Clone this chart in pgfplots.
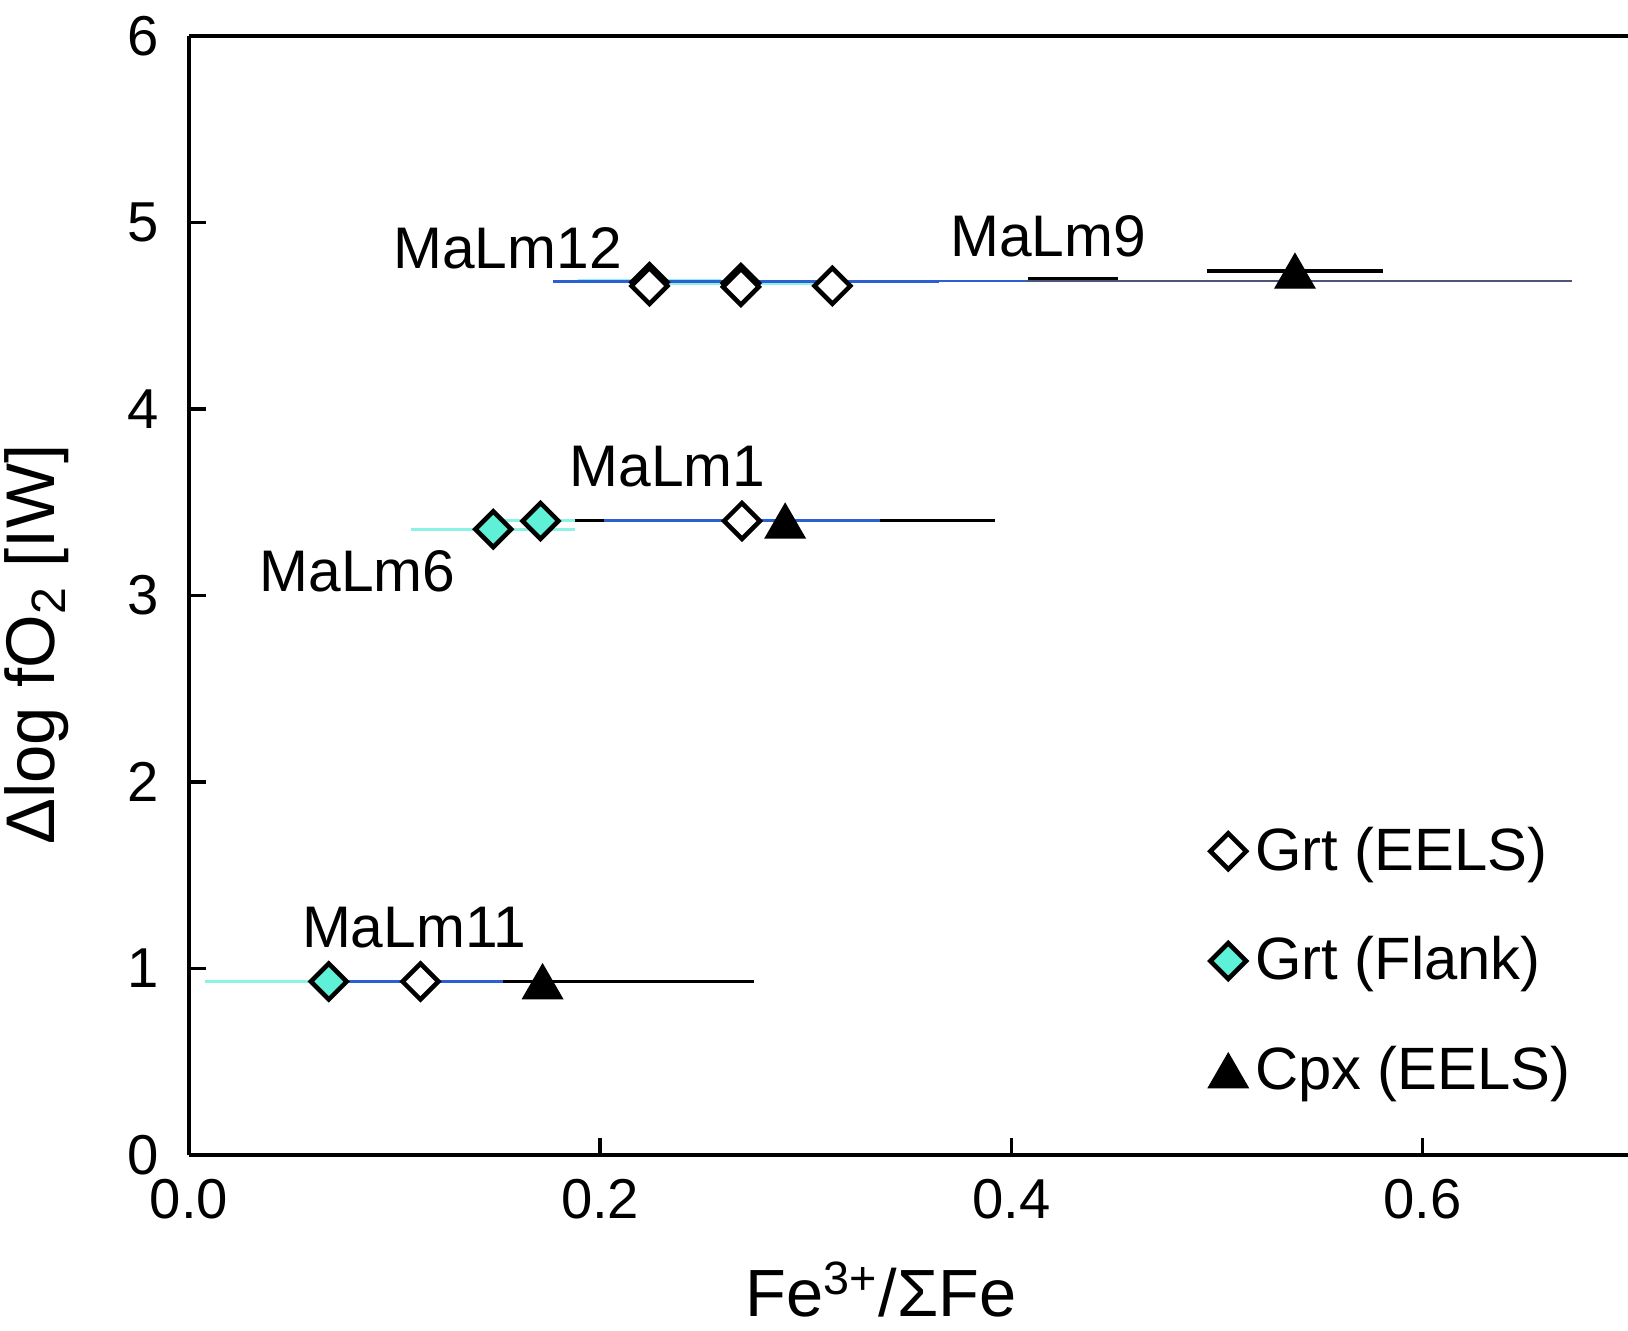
\documentclass[border=0pt]{standalone}
\usepackage{pgfplots}
\pgfplotsset{compat=1.18}
\usepackage{fontspec}
\setmainfont{Liberation Sans}

\definecolor{flankfill}{HTML}{5FF0D8}
\definecolor{flankbar}{HTML}{8CF2E4}
\definecolor{eelsbar}{HTML}{2A60D2}
\definecolor{guide}{HTML}{4A5878}

\pgfplotsset{
    eels/.style={only marks, mark=square*, mark size=3.6pt,
                 mark options={rotate=45, fill=white, draw=black, line width=1.3pt}},
    flank/.style={only marks, mark=square*, mark size=3.6pt,
                  mark options={rotate=45, fill=flankfill, draw=black, line width=1.3pt}},
    cpx/.style={only marks, mark=triangle*, mark size=6.5pt,
                mark options={fill=black, draw=black, yshift=-1.6pt}},
    xbars/.style={draw=none, mark=none, forget plot,
                  error bars/.cd, x dir=both, x explicit, error mark=none,
                  error bar style={draw=#1, line width=0.9pt, solid}},
}

\begin{document}
\begin{tikzpicture}
\begin{axis}[
    name=main,
    width=14.39cm, height=11.19cm, scale only axis,
    xmin=0, xmax=0.7, ymin=0, ymax=6,
    axis x line*=box, axis y line*=left,
    y axis line style={-}, x axis line style={-},
    axis line style={line width=1.1pt},
    xtick={0,0.2,0.4,0.6}, ytick={0,1,2,3,4,5,6},
    xtick pos=bottom, ytick pos=left,
    tick align=inside, major tick length=0.17cm,
    tick style={line width=1pt, black},
    /pgf/number format/assume math mode=true,
    xticklabel style={/pgf/number format/fixed, /pgf/number format/fixed zerofill,
                      /pgf/number format/precision=1, yshift=-0.12cm},
    yticklabel style={xshift=-0.18cm},
    ticklabel style={font=\fontsize{16}{19}\selectfont},
    xlabel={Fe\textsuperscript{3+}/ΣFe},
    ylabel={Δlog fO\textsubscript{2} [IW]},
    every axis x label/.style={at={(axis description cs:0.481,-0.12)}, anchor=center,
                               font=\fontsize{19}{22}\selectfont},
    every axis y label/.style={at={(axis description cs:-0.106,0.456)}, rotate=90, anchor=center,
                               font=\fontsize{19.6}{22}\selectfont},
    clip=false,
    legend style={draw=none, fill=none, at={(axis description cs:0.708,0.30)},
                  anchor=north west, font=\fontsize{17}{20}\selectfont,
                  row sep=0.47cm, inner sep=0pt},
    legend cell align=left,
]

% guide lines under everything
\addplot[guide, line width=0.7pt, forget plot] coordinates {(0.177,4.685) (0.673,4.685)};
\addplot[black, line width=0.9pt, forget plot] coordinates {(0.408,4.70) (0.452,4.70)};

% Grt (Flank) error bars
\addplot[xbars=flankbar] coordinates {
    (0.068,0.93) +- (0.060,0)
    (0.148,3.355) +- (0.040,0)
    (0.171,3.40) +- (0.028,0)
    (0.224,4.69) +- (0.035,0)
    (0.2685,4.675) +- (0.035,0)
};
% Cpx error bars
\addplot[xbars=black] coordinates {
    (0.172,0.93) +- (0.103,0)
    (0.290,3.40) +- (0.102,0)
    (0.538,4.74) +- (0.043,0)
};
% Grt (EELS) error bars
\addplot[xbars=eelsbar] coordinates {
    (0.1126,0.93) +- (0.040,0)
    (0.269,3.40) +- (0.067,0)
    (0.224,4.685) +- (0.047,0)
    (0.313,4.685) +- (0.052,0)
};
\addplot[eelsbar, line width=0.6pt, forget plot] coordinates {(0.365,4.688) (0.407,4.688)};

% markers
\addplot[flank, forget plot] coordinates {
    (0.068,0.93) (0.148,3.355) (0.171,3.40) (0.224,4.68) (0.2685,4.675)
};
\addplot[eels, forget plot] coordinates {
    (0.1126,0.93) (0.269,3.40) (0.224,4.66) (0.2685,4.655) (0.313,4.66)
};
\addplot[cpx, forget plot] coordinates {
    (0.172,0.93) (0.290,3.40) (0.538,4.74)
};

\addlegendimage{eels}
\addlegendentry{Grt (EELS)}
\addlegendimage{flank}
\addlegendentry{Grt (Flank)}
\addlegendimage{cpx}
\addlegendentry{Cpx (EELS)}

\begin{scope}[font=\fontsize{16.7}{19}\selectfont]
\node at (axis cs:0.155,4.86) {MaLm12};
\node at (axis cs:0.418,4.925) {MaLm9};
\node at (axis cs:0.2327,3.69) {MaLm1};
\node at (axis cs:0.082,3.13) {MaLm6};
\node at (axis cs:0.1095,1.22) {MaLm11};
\end{scope}
\end{axis}
\pgfresetboundingbox
\path[use as bounding box] ([xshift=-1.89cm,yshift=-1.75cm]main.south west)
    rectangle ([yshift=0.36cm]main.north east);
\end{tikzpicture}
\end{document}
